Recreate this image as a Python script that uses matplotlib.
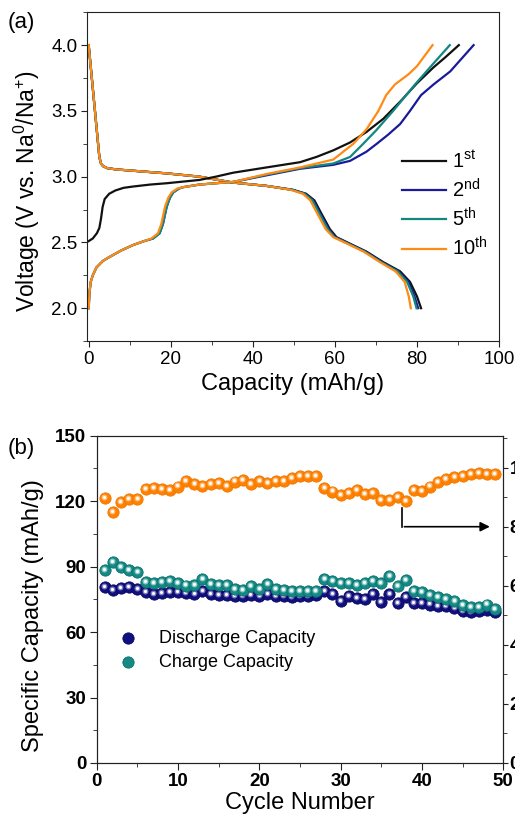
import numpy as np
import matplotlib
matplotlib.use("Agg")
import matplotlib.pyplot as plt
from matplotlib.ticker import MultipleLocator
from matplotlib.transforms import offset_copy

plt.rcParams['font.family'] = ['Liberation Sans', 'DejaVu Sans']
plt.rcParams['mathtext.fontset'] = 'custom'
plt.rcParams['mathtext.rm'] = 'Liberation Sans'
plt.rcParams['mathtext.it'] = 'Liberation Sans:italic'

# ---- panel (a): charge / discharge profiles ----
cycle_labels = [r'1$^{\mathrm{st}}$', r'2$^{\mathrm{nd}}$', r'5$^{\mathrm{th}}$', r'10$^{\mathrm{th}}$']
line_cols = ['#111111', '#1a1a9a', '#10877f', '#ff8a14']

dis_v = [4.0, 3.15, 3.1, 3.08, 3.065, 3.055, 3.045, 3.025, 3.0, 2.955, 2.93, 2.9,
         2.87, 2.82, 2.72, 2.6, 2.54, 2.49, 2.43, 2.35, 2.28, 2.2, 2.09, 2.0]
dis_c1 = [0, 2.6, 3.0, 3.5, 4.5, 6.7, 10.8, 19, 27, 35.2, 43.3, 49.8,
          53, 55, 56.7, 58.8, 60.4, 63.7, 67.7, 71.8, 75.9, 78.3, 80, 81]
dis_c2 = [0, 2.6, 3.0, 3.5, 4.5, 6.7, 10.8, 19, 27, 35.2, 43.3, 49.6,
          52.7, 54.7, 56.4, 58.5, 60.1, 63.5, 67.5, 71.5, 75.5, 77.9, 79.4, 80.3]
dis_c5 = [0, 2.6, 3.0, 3.5, 4.5, 6.7, 10.8, 19, 27, 35.2, 43.3, 49.5,
          52.6, 54.5, 56.2, 58.3, 59.9, 63.3, 67.3, 71.3, 75.3, 77.6, 79.1, 79.9]
dis_c10 = [0, 2.6, 3.0, 3.5, 4.5, 6.7, 10.8, 19, 27, 35.2, 43.3, 49.2,
           52.2, 54.0, 55.7, 57.8, 59.6, 63.0, 67.0, 71.0, 74.8, 77.0, 78.0, 78.5]

chg_c1 = [0, 1.0, 2.0, 2.6, 3.0, 3.4, 3.9, 5.0, 6.5, 8.5, 10.8, 15, 19, 27, 31, 35.2,
          43.3, 51.5, 55.5, 59.6, 63.7, 67.7, 71.8, 75.9, 80, 84, 87, 90.2]
chg_v1 = [2.51, 2.53, 2.57, 2.61, 2.68, 2.77, 2.83, 2.87, 2.895, 2.915, 2.925, 2.94, 2.95,
          2.975, 3.0, 3.03, 3.07, 3.11, 3.15, 3.2, 3.26, 3.34, 3.44, 3.57, 3.71, 3.83, 3.91, 4.0]

# common low-voltage part of later charges
chg_low_c = [0, 0.2, 0.5, 1.0, 1.9, 3.5, 5.1, 8, 10.8, 13.5, 15.7, 17.3, 18.1, 19,
             19.8, 20.6, 22, 23, 27, 31, 35.2]
chg_low_v = [2.0, 2.12, 2.2, 2.25, 2.31, 2.36, 2.39, 2.44, 2.48, 2.51, 2.53, 2.57, 2.64,
             2.77, 2.84, 2.88, 2.91, 2.92, 2.94, 2.95, 2.96]
chg_c2 = chg_low_c + [43.3, 51.5, 59.6, 63.7, 67.7, 70.2, 73, 75.9, 78.3, 81, 84, 88.1, 93.8]
chg_v2 = chg_low_v + [3.01, 3.06, 3.09, 3.12, 3.19, 3.25, 3.32, 3.4, 3.5, 3.62, 3.7, 3.8, 4.0]
chg_c5 = chg_low_c + [43.3, 51.5, 59.6, 63.7, 66.9, 70, 74.2, 79.5, 84, 88]
chg_v5 = chg_low_v + [3.015, 3.065, 3.1, 3.15, 3.25, 3.35, 3.5, 3.7, 3.86, 4.0]
chg_c10 = [c - 0.4 if 15 < c < 23 else c for c in chg_low_c] + \
    [43.3, 51.5, 59.6, 64.5, 67.7, 70.6, 72.5, 74.6, 78, 80, 83.8]
chg_v10 = chg_low_v + [3.02, 3.07, 3.13, 3.25, 3.36, 3.5, 3.62, 3.7, 3.78, 3.84, 4.0]

charges = [(chg_c1, chg_v1), (chg_c2, chg_v2), (chg_c5, chg_v5), (chg_c10, chg_v10)]
discharges = [dis_c1, dis_c2, dis_c5, dis_c10]

# ---- panel (b): cycling ----
cycles = np.arange(1, 50)
discharge_cap = [80.7, 79.4, 80.0, 80.5, 79.7, 78.2, 77.6, 77.9, 78.4, 78.2,
                 77.9, 77.6, 78.7, 77.6, 77.1, 76.8, 76.4, 76.4, 76.8, 76.4,
                 77.6, 76.4, 76.4, 76.1, 76.4, 76.4, 77.1, 78.7, 77.4, 74.4,
                 76.4, 75.6, 75.3, 77.6, 73.6, 77.6, 73.3, 76.1, 73.3, 73.3,
                 72.6, 72.1, 71.8, 71.0, 69.5, 69.0, 69.5, 70.3, 69.0]
charge_cap = [88.6, 92.1, 89.7, 88.6, 87.4, 82.9, 82.5, 82.8, 83.2, 82.5,
              81.3, 81.7, 84.3, 82.2, 81.4, 81.7, 79.9, 79.1, 81.0, 79.7,
              82.0, 79.7, 79.4, 79.0, 79.0, 79.0, 79.0, 84.3, 83.2, 82.5,
              82.5, 81.7, 82.5, 83.2, 82.5, 85.5, 81.0, 83.7, 78.7, 78.4,
              77.1, 75.9, 75.2, 74.1, 72.3, 71.3, 71.3, 72.6, 70.6]
efficiency = [89.6, 85.1, 88.2, 89.3, 89.4, 92.8, 93.2, 92.8, 92.4, 93.6,
              95.5, 94.4, 93.8, 94.5, 94.7, 93.8, 95.3, 95.8, 94.4, 95.5,
              94.9, 95.5, 95.6, 96.4, 97.0, 97.0, 97.2, 93.0, 91.9, 90.8,
              91.5, 92.4, 91.1, 91.5, 89.1, 89.1, 89.9, 88.8, 92.4, 92.2,
              93.6, 95.0, 96.2, 96.7, 97.2, 97.7, 98.1, 97.7, 97.9]

fig = plt.figure(figsize=(5.15, 8.16), dpi=100)
spine_col = '#222222'

# panel (a)
ax1 = fig.add_axes([0.169, 0.582, 0.800, 0.403])
for i in range(4):
    ax1.plot(discharges[i], dis_v, color=line_cols[i], lw=1.6)
for i in range(4):
    ax1.plot(charges[i][0], charges[i][1], color=line_cols[i], lw=1.6, label=cycle_labels[i])
ax1.set_xlim(-0.4, 100)
ax1.set_ylim(1.75, 4.25)
ax1.xaxis.set_major_locator(MultipleLocator(20))
ax1.xaxis.set_minor_locator(MultipleLocator(10))
ax1.yaxis.set_major_locator(MultipleLocator(0.5))
ax1.yaxis.set_minor_locator(MultipleLocator(0.25))
ax1.yaxis.set_major_formatter(matplotlib.ticker.FormatStrFormatter('%.1f'))
ax1.tick_params(which='both', direction='out', labelsize=13.5, color=spine_col, pad=3)
ax1.tick_params(which='major', length=4)
ax1.tick_params(which='minor', length=3)
for s in ax1.spines.values():
    s.set_color(spine_col)
ax1.set_xlabel('Capacity (mAh/g)', fontsize=17, labelpad=4)
ax1.set_ylabel(r'Voltage (V vs. Na$^{0}$/Na$^{+}$)', fontsize=16.5)
ax1.yaxis.set_label_coords(-0.11, 0.455)
ax1.legend(loc='upper left', bbox_to_anchor=(0.74, 0.61), frameon=False, fontsize=14.5,
           handlelength=2.2, handletextpad=0.3, labelspacing=0.3, borderpad=0)
fig.text(0.015, 0.985, '(a)', fontsize=16, va='top')

# panel (b)
ax2 = fig.add_axes([0.188, 0.065, 0.789, 0.401])
ax3 = ax2.twinx()
trans_hi = offset_copy(ax3.transData, fig=fig, x=-0.6, y=0.8, units='points')
ax3.scatter(cycles, efficiency, s=66, color='#ff8100', edgecolor='#f07800', lw=0.6, zorder=2)
ax3.scatter(cycles, efficiency, s=18, color='#ffc080', lw=0, zorder=3, transform=trans_hi)
ax3.scatter(cycles, efficiency, s=5, color='white', lw=0, zorder=4, transform=trans_hi)
ax3.set_ylim(0, 110.8)
ax3.yaxis.set_major_locator(MultipleLocator(20))
ax3.yaxis.set_minor_locator(MultipleLocator(10))
ax3.tick_params(which='both', direction='out', labelsize=13.5, color=spine_col, pad=1)
ax3.tick_params(which='major', length=3.5)
ax3.tick_params(which='minor', length=3)
for t in ax3.get_yticklabels():
    t.set_fontweight('bold')

trans_hi2 = offset_copy(ax2.transData, fig=fig, x=-0.6, y=0.8, units='points')
h_d = ax2.scatter(cycles, discharge_cap, s=66, color='#10107e', edgecolor='#0a0a60', lw=0.6, zorder=2)
ax2.scatter(cycles, discharge_cap, s=18, color='#8080c0', lw=0, zorder=3, transform=trans_hi2)
ax2.scatter(cycles, discharge_cap, s=5, color='white', lw=0, zorder=3, transform=trans_hi2)
h_c = ax2.scatter(cycles, charge_cap, s=66, color='#138a85', edgecolor='#0c6f6a', lw=0.6, zorder=4)
ax2.scatter(cycles, charge_cap, s=18, color='#8ccac6', lw=0, zorder=5, transform=trans_hi2)
ax2.scatter(cycles, charge_cap, s=5, color='white', lw=0, zorder=5, transform=trans_hi2)
ax2.set_zorder(ax3.get_zorder() + 1)
ax2.patch.set_visible(False)
ax2.set_xlim(0, 50)
ax2.set_ylim(0, 150)
ax2.xaxis.set_major_locator(MultipleLocator(10))
ax2.xaxis.set_minor_locator(MultipleLocator(5))
ax2.yaxis.set_major_locator(MultipleLocator(30))
ax2.yaxis.set_minor_locator(MultipleLocator(15))
ax2.tick_params(which='both', direction='out', labelsize=13.5, color=spine_col, pad=2.5)
ax2.tick_params(which='major', length=5)
ax2.tick_params(which='minor', length=3)
for t in ax2.get_xticklabels() + ax2.get_yticklabels():
    t.set_fontweight('bold')
for s in list(ax2.spines.values()) + list(ax3.spines.values()):
    s.set_color(spine_col)
ax2.set_xlabel('Cycle Number', fontsize=17, labelpad=1)
ax2.set_ylabel('Specific Capacity (mAh/g)', fontsize=17)
ax2.yaxis.set_label_coords(-0.13, 0.45)
ax2.legend([h_d, h_c], ['Discharge Capacity', 'Charge Capacity'], loc='upper left',
           bbox_to_anchor=(0.01, 0.435), frameon=False, fontsize=13,
           handletextpad=0.7, labelspacing=0.4, borderpad=0, scatterpoints=1)

# arrow pointing to the right axis
ax3.annotate('', xy=(48.7, 80), xytext=(37.5, 80),
             arrowprops=dict(arrowstyle='-|>', color='black', lw=1.2, mutation_scale=14))
ax3.plot([37.5, 37.5], [86.3, 80], color='black', lw=1.2)
fig.text(0.015, 0.463, '(b)', fontsize=16, va='top')

fig.savefig('out.png', dpi=100)
